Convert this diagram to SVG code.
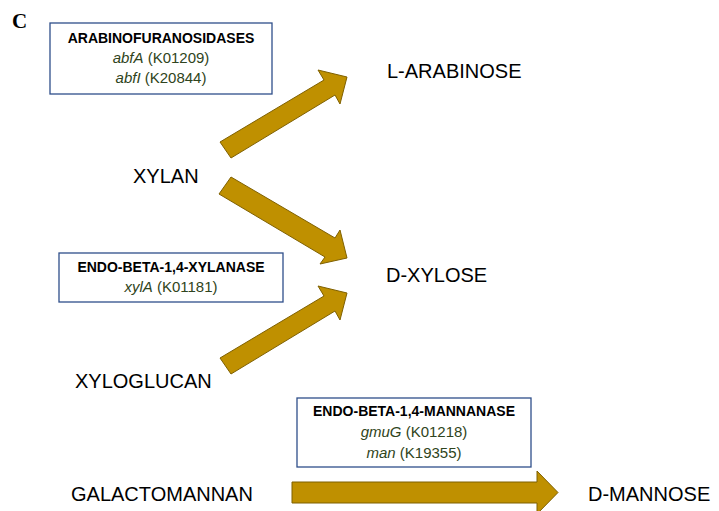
<svg xmlns="http://www.w3.org/2000/svg" width="719" height="511" viewBox="0 0 719 511">
<style>
.lbl{font-family:"Liberation Sans",Arial,sans-serif;font-size:20px;fill:#000}
.box{fill:#fff;stroke:#2F4F8A;stroke-width:1.3}
.bt{font-family:"Liberation Sans",Arial,sans-serif;font-size:14px;font-weight:bold;fill:#000;text-anchor:middle}
.gt{font-family:"Liberation Sans",Arial,sans-serif;font-size:15px;fill:#2F4420;text-anchor:middle}
.arr{fill:#BF9000;stroke:#7F6000;stroke-width:1}
</style>
<rect width="719" height="511" fill="#fff"/>
<text x="12" y="28" font-family="Liberation Serif,Times New Roman,serif" font-weight="bold" font-size="21">C</text>

<g id="connectors">
<polygon class="arr" points="220,142 324,80 318,70 347,77 340,104 335,95 231,158"/>
<polygon class="arr" points="231,177 335,238 340,230 347,258 320,264 325,257 219,194"/>
<polygon class="arr" points="220,358 324,296 318,286 347,293 340,320 335,311 231,374"/>
<polygon class="arr" points="292,482 537,482 537,471 558,492.5 537,514 537,503 292,503"/>
</g>

<g id="box-arabinofuranosidases">
<rect class="box" x="50" y="23" width="222" height="71"/>
<text class="bt" x="161" y="43">ARABINOFURANOSIDASES</text>
<text class="gt" x="161" y="63"><tspan font-style="italic">abfA</tspan> (K01209)</text>
<text class="gt" x="161" y="83"><tspan font-style="italic">abfI</tspan> (K20844)</text>
</g>
<g id="box-xylanase">
<rect class="box" x="59" y="253" width="224" height="49"/>
<text class="bt" x="171" y="272">ENDO-BETA-1,4-XYLANASE</text>
<text class="gt" x="171" y="292"><tspan font-style="italic">xylA</tspan> (K01181)</text>
</g>
<g id="box-mannanase">
<rect class="box" x="297" y="398" width="234" height="69"/>
<text class="bt" x="414" y="416">ENDO-BETA-1,4-MANNANASE</text>
<text class="gt" x="414" y="437"><tspan font-style="italic">gmuG</tspan> (K01218)</text>
<text class="gt" x="414" y="458"><tspan font-style="italic">man</tspan> (K19355)</text>
</g>

<g id="n-xylan"><text class="lbl" x="133" y="183">XYLAN</text></g>
<g id="n-larabinose"><text class="lbl" x="387" y="78">L-ARABINOSE</text></g>
<g id="n-dxylose"><text class="lbl" x="386" y="282">D-XYLOSE</text></g>
<g id="n-xyloglucan"><text class="lbl" x="75" y="388">XYLOGLUCAN</text></g>
<g id="n-galactomannan"><text class="lbl" x="71" y="501">GALACTOMANNAN</text></g>
<g id="n-dmannose"><text class="lbl" x="588" y="501">D-MANNOSE</text></g>
</svg>
